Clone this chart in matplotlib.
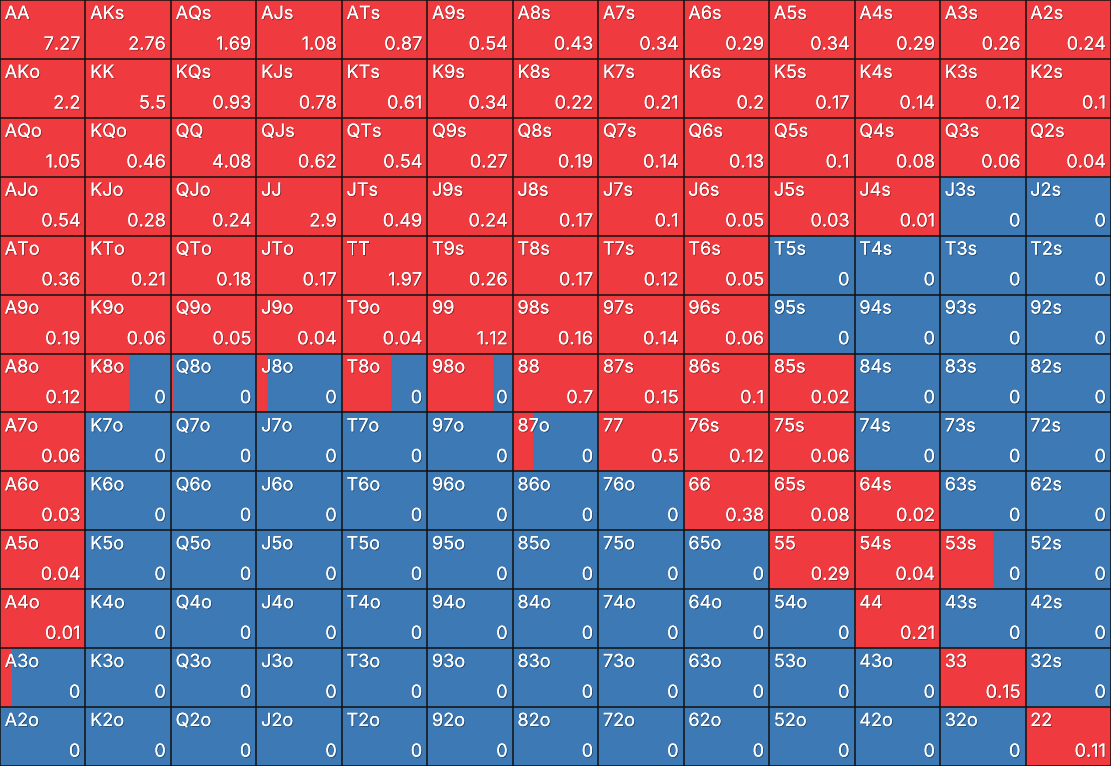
import matplotlib
matplotlib.use("Agg")
import matplotlib.pyplot as plt
import matplotlib.patheffects as pe
from matplotlib.patches import Rectangle

ranks = ['A', 'K', 'Q', 'J', 'T', '9', '8', '7', '6', '5', '4', '3', '2']

# value shown in each cell (row = first rank, col = second rank)
values = [
    [7.27, 2.76, 1.69, 1.08, 0.87, 0.54, 0.43, 0.34, 0.29, 0.34, 0.29, 0.26, 0.24],
    [2.2, 5.5, 0.93, 0.78, 0.61, 0.34, 0.22, 0.21, 0.2, 0.17, 0.14, 0.12, 0.1],
    [1.05, 0.46, 4.08, 0.62, 0.54, 0.27, 0.19, 0.14, 0.13, 0.1, 0.08, 0.06, 0.04],
    [0.54, 0.28, 0.24, 2.9, 0.49, 0.24, 0.17, 0.1, 0.05, 0.03, 0.01, 0, 0],
    [0.36, 0.21, 0.18, 0.17, 1.97, 0.26, 0.17, 0.12, 0.05, 0, 0, 0, 0],
    [0.19, 0.06, 0.05, 0.04, 0.04, 1.12, 0.16, 0.14, 0.06, 0, 0, 0, 0],
    [0.12, 0, 0, 0, 0, 0, 0.7, 0.15, 0.1, 0.02, 0, 0, 0],
    [0.06, 0, 0, 0, 0, 0, 0, 0.5, 0.12, 0.06, 0, 0, 0],
    [0.03, 0, 0, 0, 0, 0, 0, 0, 0.38, 0.08, 0.02, 0, 0],
    [0.04, 0, 0, 0, 0, 0, 0, 0, 0, 0.29, 0.04, 0, 0],
    [0.01, 0, 0, 0, 0, 0, 0, 0, 0, 0, 0.21, 0, 0],
    [0, 0, 0, 0, 0, 0, 0, 0, 0, 0, 0, 0.15, 0],
    [0, 0, 0, 0, 0, 0, 0, 0, 0, 0, 0, 0, 0.11],
]

# cells that are only partly red (share of the cell width)
mixed = {
    'K8o': 0.51, 'Q8o': 0.02, 'J8o': 0.12, 'T8o': 0.57, '98o': 0.77,
    '87o': 0.24, '53s': 0.62, 'A3o': 0.14,
}

red = '#ef3a3f'
blue = '#3c79b5'

plt.rcParams['font.family'] = ['Inter', 'DejaVu Sans']

fig = plt.figure(figsize=(11.11, 7.66), dpi=100)
ax = fig.add_axes([0, 0, 1, 1])
ax.set_xlim(0, 13)
ax.set_ylim(13, 0)
ax.axis('off')

shadow = [pe.withSimplePatchShadow(offset=(0.7, -0.7), shadow_rgbFace='black', alpha=0.35), pe.Normal()]

for i in range(13):
    for j in range(13):
        if i == j:
            name = ranks[i] + ranks[j]
        elif j > i:
            name = ranks[i] + ranks[j] + 's'
        else:
            name = ranks[j] + ranks[i] + 'o'
        v = values[i][j]
        share = mixed.get(name, 1.0 if v > 0 else 0.0)
        ax.add_patch(Rectangle((j, i), 1, 1, facecolor=blue, edgecolor='none'))
        if share > 0:
            ax.add_patch(Rectangle((j, i), share, 1, facecolor=red, edgecolor='none'))
        ax.text(j + 0.055, i + 0.1, name, color='white', fontsize=13,
                ha='left', va='top', path_effects=shadow)
        ax.text(j + 0.94, i + 0.91, f'{v:g}', color='white', fontsize=13,
                ha='right', va='bottom', path_effects=shadow)

for k in range(14):
    ax.plot([k, k], [0, 13], color='#111111', lw=1.1)
    ax.plot([0, 13], [k, k], color='#111111', lw=1.1)

fig.savefig('out.png', dpi=100)
